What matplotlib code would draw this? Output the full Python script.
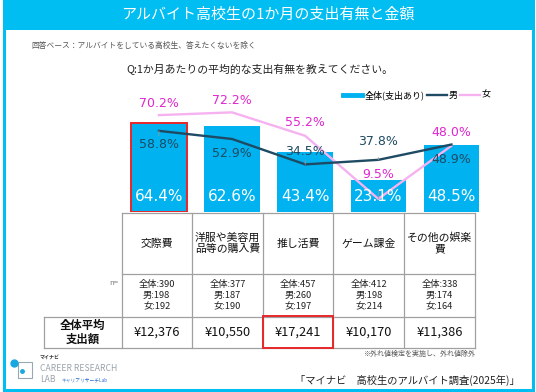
import matplotlib
matplotlib.use('Agg')
import matplotlib.pyplot as plt
from matplotlib.lines import Line2D
from matplotlib.patches import Rectangle

plt.rcParams['font.family'] = ['Noto Sans CJK JP', 'DejaVu Sans']

# data
categories = ['交際費', '洋服や美容用\n品等の購入費', '推し活費', 'ゲーム課金', 'その他の娯楽\n費']
total = [64.4, 62.6, 43.4, 23.1, 48.5]
male = [58.8, 52.9, 34.5, 37.8, 48.9]
female = [70.2, 72.2, 55.2, 9.5, 48.0]
n_total = [390, 377, 457, 412, 338]
n_male = [198, 187, 260, 198, 174]
n_female = [192, 190, 197, 214, 164]
avg_spend = [12376, 10550, 17241, 10170, 11386]

CYAN = '#00b2ef'
FRAME = '#00bdf2'
NAVY = '#1f4a64'
PINK = '#f6b2f0'
MAGENTA = '#e026cf'
RED = '#e8262a'
GRID = '#a0a0a0'

W, H = 536, 392
fig = plt.figure(figsize=(W / 100, H / 100), dpi=100)

# overlay axes in pixel coordinates
ax0 = fig.add_axes([0, 0, 1, 1])
ax0.set_xlim(0, W)
ax0.set_ylim(H, 0)
ax0.axis('off')

# frame + title bar
ax0.add_patch(Rectangle((3.5, 1), 529, 389, fill=False, edgecolor=FRAME, lw=2.2))
ax0.add_patch(Rectangle((2.5, 0), 531.5, 29.5, color=FRAME, lw=0))
ax0.text(W / 2, 15, 'アルバイト高校生の1か月の支出有無と金額', color='white',
         fontsize=10.8, ha='center', va='center')
ax0.text(31, 46, '回答ベース：アルバイトをしている高校生、答えたくないを除く',
         color='#555555', fontsize=5.6, ha='left', va='center')
ax0.text(260, 70, 'Q:1か月あたりの平均的な支出有無を教えてください。',
         color='#222222', fontsize=7.8, ha='center', va='center')

# table
cols = [121.7, 191.7, 263.3, 333.3, 404.3, 475]
y_top, y_head, y_n, y_bot = 213.3, 274, 316.5, 347.5
left_avg = 44
for x in cols:
    ax0.plot([x, x], [y_top, y_bot], color=GRID, lw=0.9)
ax0.plot([left_avg, left_avg], [y_n, y_bot], color=GRID, lw=0.9)
ax0.plot([cols[0], cols[-1]], [y_top, y_top], color=GRID, lw=0.9)
ax0.plot([cols[0], cols[-1]], [y_head, y_head], color=GRID, lw=0.9)
ax0.plot([left_avg, cols[-1]], [y_n, y_n], color=GRID, lw=0.9)
ax0.plot([left_avg, cols[-1]], [y_bot, y_bot], color=GRID, lw=0.9)

for i, cat in enumerate(categories):
    cx = (cols[i] + cols[i + 1]) / 2
    ax0.text(cx, (y_top + y_head) / 2, cat, fontsize=7.8, ha='center', va='center',
             linespacing=1.15, color='#111111')
    ax0.text(cx, 284, f'全体:{n_total[i]}', fontsize=6.7, ha='center', va='center', color='#222222')
    ax0.text(cx, 295.7, f'男:{n_male[i]}', fontsize=6.7, ha='center', va='center', color='#222222')
    ax0.text(cx, 307.3, f'女:{n_female[i]}', fontsize=6.7, ha='center', va='center', color='#222222')
    ax0.text(cx, (y_n + y_bot) / 2, f'¥{avg_spend[i]:,}', fontsize=9.2, ha='center',
             va='center', color='#111111')
ax0.text(118, 283, 'n=', fontsize=5.5, ha='right', va='center', color='#777777')
ax0.text((left_avg + cols[0]) / 2, (y_n + y_bot) / 2, '全体平均\n支出額', fontsize=8.2,
         ha='center', va='center', linespacing=1.1, fontweight='bold', color='#111111')
ax0.add_patch(Rectangle((cols[2], y_n - 1), cols[3] - cols[2], y_bot - y_n + 1.5,
                        fill=False, edgecolor=RED, lw=1.4, zorder=5))

ax0.text(475, 354, '※外れ値検定を実施し、外れ値除外', fontsize=5, ha='right', va='center',
         color='#555555')
ax0.text(520, 380, '「マイナビ　高校生のアルバイト調査(2025年)」', fontsize=7.4, ha='right',
         va='center', color='#222222')

# logo (approximation)
ax0.add_patch(Rectangle((18, 362), 14, 16, fill=False, edgecolor='#9aa8b4', lw=0.8))
ax0.plot([13.5], [363], marker='o', color='#19a7e0', markersize=5)
ax0.plot([22], [371], marker='o', color='#19a7e0', markersize=2.5)
ax0.text(40, 357, 'マイナビ', fontsize=3.6, ha='left', va='center', fontweight='bold', color='#333333')
ax0.text(40, 368.5, 'CAREER RESEARCH', fontsize=6.2, ha='left', va='center', color='#9aa3ab')
ax0.text(40, 380, 'LAB', fontsize=6.2, ha='left', va='center', color='#9aa3ab')
ax0.text(62, 380, 'キャリアリサーチLab', fontsize=3.4, ha='left', va='center', color='#2f6fd0')

# chart axes
x_left, x_right = 122.4, 488.0
y_axis_bottom, y_axis_top = 212.0, 74.0
ax = fig.add_axes([x_left / W, (H - y_axis_bottom) / H, (x_right - x_left) / W,
                   (y_axis_bottom - y_axis_top) / H])
ax.patch.set_alpha(0)
ax.set_xlim(-0.5, 4.5)
ax.set_ylim(0, 100)
ax.axis('off')

xs = list(range(len(categories)))
bars = ax.bar(xs, total, width=0.76, color=CYAN, zorder=1)
bars[0].set_edgecolor(RED)
bars[0].set_linewidth(1.4)

ax.plot(xs, male, color=NAVY, lw=1.7, zorder=3)
ax.plot(xs, female, color=PINK, lw=1.7, zorder=2)

for i, v in enumerate(total):
    ax.text(i, 11, f'{v}%', color='white', fontsize=11, ha='center', va='center', zorder=6,
            family='DejaVu Sans')

# male labels: offset in % units (positive = above point)
male_off = [-10.2, -10.2, 9.5, 13.5, -10.5]
male_leader = [True, False, True, True, False]
for i, v in enumerate(male):
    ax.annotate(f'{v}%', xy=(i, v), xytext=(i, v + male_off[i]), color=NAVY, fontsize=9,
                ha='center', va='center', zorder=6, family='DejaVu Sans',
                arrowprops=dict(arrowstyle='-', color='#999999', lw=0.6,
                                shrinkA=5, shrinkB=0) if male_leader[i] else None)

female_off = [8.7, 8.3, 9.4, 18.0, 9.4]
female_leader = [False, False, False, True, False]
for i, v in enumerate(female):
    ax.annotate(f'{v}%', xy=(i, v), xytext=(i, v + female_off[i]), color=MAGENTA, fontsize=9,
                ha='center', va='center', zorder=6, family='DejaVu Sans',
                arrowprops=dict(arrowstyle='-', color='#999999', lw=0.6,
                                shrinkA=5, shrinkB=0) if female_leader[i] else None)

handles = [Line2D([], [], color=CYAN, lw=3.5), Line2D([], [], color=NAVY, lw=1.7),
           Line2D([], [], color=PINK, lw=1.7)]
fig.legend(handles, ['全体(支出あり)', '男', '女'], loc='center left',
           bbox_to_anchor=(338 / W, 1 - 95 / H), ncol=3, frameon=False, fontsize=6.5,
           handlelength=2.2, handletextpad=0.2, columnspacing=0.3, borderpad=0)

fig.savefig('out.png', dpi=100)
